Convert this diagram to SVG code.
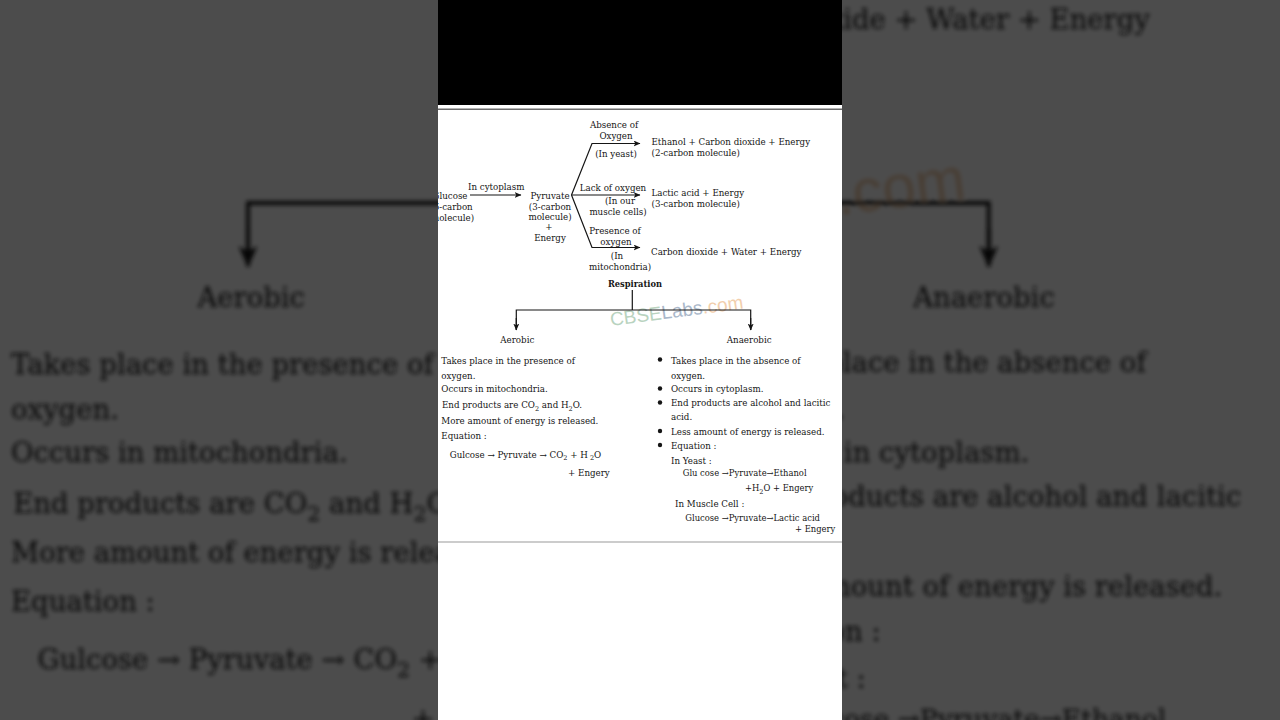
<svg xmlns="http://www.w3.org/2000/svg" xmlns:xlink="http://www.w3.org/1999/xlink" width="1280" height="720" viewBox="0 0 1280 720">
<style>
.t{font-family:"DejaVu Serif","Liberation Serif",serif;font-size:8.7px;fill:#151515}
.s{font-size:8.4px}
.m{text-anchor:middle}
.b{font-weight:bold}
.sub{font-size:6.5px}
.ln{stroke:#151515;stroke-width:1.2;fill:none}
.wm{font-family:"Liberation Sans",Arial,sans-serif;font-size:19px}
</style>
<defs>
<marker id="ah" viewBox="0 0 8 7" refX="7.5" refY="3.5" markerWidth="7" markerHeight="6" markerUnits="userSpaceOnUse" orient="auto">
<path d="M0,0 L8,3.5 L0,7 L2,3.5 z" fill="#151515"/>
</marker>
<clipPath id="pc"><rect x="438" y="110" width="404" height="432"/></clipPath>
<filter id="blur" x="-5%" y="-5%" width="110%" height="110%"><feGaussianBlur stdDeviation="0.6"/></filter>
</defs>

<rect width="1280" height="720" fill="#fff"/>
<use xlink:href="#content" href="#content" transform="matrix(3.16 0 0 3.16 -1383.5 -776.6)" filter="url(#blur)"/>
<rect width="1280" height="720" fill="#000" opacity="0.7"/>

<rect x="438" y="0" width="404" height="105" fill="#000"/>
<rect x="438" y="105" width="404" height="615" fill="#fff"/>
<line x1="438" y1="109.3" x2="842" y2="109.3" stroke="#6a6a6a" stroke-width="1.6"/>
<line x1="438" y1="542" x2="842" y2="542" stroke="#999" stroke-width="1"/>

<g id="content" clip-path="url(#pc)">
  <g id="watermark">
    <text class="wm" x="611" y="326" transform="rotate(-7.5 611 326)"><tspan fill="#b9d3c0">CBSE</tspan><tspan fill="#aab8ca">Labs</tspan><tspan fill="#f2cfae">.com</tspan></text>
  </g>

  <g id="connectors">
    <line class="ln" x1="470" y1="195" x2="521" y2="195" marker-end="url(#ah)"/>
    <polyline class="ln" points="571.5,195 592,143.5 640,143.5" marker-end="url(#ah)"/>
    <line class="ln" x1="571.5" y1="195" x2="640" y2="195" marker-end="url(#ah)"/>
    <polyline class="ln" points="571.5,195 592,247.5 640,247.5" marker-end="url(#ah)"/>
    <line class="ln" x1="632.3" y1="290" x2="632.3" y2="310"/>
    <polyline class="ln" points="516.3,330 516.3,310 750.7,310 750.7,330" stroke-width="1.3"/>
    <line class="ln" x1="516.3" y1="318" x2="516.3" y2="330" marker-end="url(#ah)"/>
    <line class="ln" x1="750.7" y1="318" x2="750.7" y2="330" marker-end="url(#ah)"/>
  </g>

  <g id="glucose">
    <text class="t m" x="450" y="199">Glucose</text>
    <text class="t m" x="451.5" y="210">(6-carbon</text>
    <text class="t m" x="452.5" y="220.5">molecule)</text>
  </g>
  <g id="cytoplasm-label">
    <text class="t" x="468" y="189.5">In cytoplasm</text>
  </g>
  <g id="pyruvate">
    <text class="t m" x="550" y="199">Pyruvate</text>
    <text class="t m" x="550" y="210">(3-carbon</text>
    <text class="t m" x="550" y="220">molecule)</text>
    <text class="t m" x="549" y="229.5">+</text>
    <text class="t m" x="550" y="240.5">Energy</text>
  </g>
  <g id="absence">
    <text class="t m" x="614" y="128">Absence of</text>
    <text class="t m" x="616" y="138.5">Oxygen</text>
    <text class="t m" x="616" y="157">(In yeast)</text>
  </g>
  <g id="lack">
    <text class="t m" x="613" y="190.5">Lack of oxygen</text>
    <text class="t m" x="620" y="203.5">(In our</text>
    <text class="t m" x="618" y="214.5">muscle cells)</text>
  </g>
  <g id="presence">
    <text class="t m" x="615" y="233.5">Presence of</text>
    <text class="t m" x="616" y="244.5">oxygen</text>
    <text class="t m" x="617" y="259">(In</text>
    <text class="t m" x="620" y="269.5">mitochondria)</text>
  </g>
  <g id="ethanol">
    <text class="t" x="651.5" y="145">Ethanol + Carbon dioxide + Energy</text>
    <text class="t" x="651.5" y="156">(2-carbon molecule)</text>
  </g>
  <g id="lactic">
    <text class="t" x="651.5" y="196">Lactic acid + Energy</text>
    <text class="t" x="651.5" y="207">(3-carbon molecule)</text>
  </g>
  <g id="co2water">
    <text class="t" x="651" y="255">Carbon dioxide + Water + Energy</text>
  </g>

  <g id="respiration">
    <text class="t m b" x="635" y="287" style="font-size:8.3px">Respiration</text>
  </g>
  <g id="aerobic">
    <text class="t m" x="517.3" y="343">Aerobic</text>
  </g>
  <g id="anaerobic">
    <text class="t m" x="749.2" y="343">Anaerobic</text>
  </g>

  <g id="aerobic-list">
    <text class="t" x="441.3" y="364">Takes place in the presence of</text>
    <text class="t" x="441.3" y="378.5">oxygen.</text>
    <text class="t" x="441.3" y="392">Occurs in mitochondria.</text>
    <text class="t" x="442" y="408">End products are CO<tspan class="sub" dy="2.5">2</tspan><tspan dy="-2.5"> and H</tspan><tspan class="sub" dy="2.5">2</tspan><tspan dy="-2.5">O.</tspan></text>
    <text class="t" x="441.3" y="423.5">More amount of energy is released.</text>
    <text class="t" x="441.3" y="439">Equation :</text>
    <text class="t" x="449.7" y="457.5">Gulcose → Pyruvate → CO<tspan class="sub" dy="2.5">2</tspan><tspan dy="-2.5"> + H</tspan><tspan class="sub" dy="2.5"> 2</tspan><tspan dy="-2.5">O</tspan></text>
    <text class="t" x="568" y="476">+ Engery</text>
  </g>

  <g id="anaerobic-list">
    <circle cx="660" cy="359.5" r="2.2" fill="#151515"/>
    <circle cx="660" cy="388.5" r="2.2" fill="#151515"/>
    <circle cx="660" cy="402.5" r="2.2" fill="#151515"/>
    <circle cx="660" cy="431" r="2.2" fill="#151515"/>
    <circle cx="660" cy="445" r="2.2" fill="#151515"/>
    <text class="t" x="671" y="363.5">Takes place in the absence of</text>
    <text class="t" x="671" y="378.5">oxygen.</text>
    <text class="t" x="671" y="392">Occurs in cytoplasm.</text>
    <text class="t" x="671" y="406">End products are alcohol and lacitic</text>
    <text class="t" x="671" y="420">acid.</text>
    <text class="t" x="671" y="434.5">Less amount of energy is released.</text>
    <text class="t" x="671" y="448.5">Equation :</text>
    <text class="t" x="671" y="463.5">In Yeast :</text>
    <text class="t s" x="682.7" y="476">Glu cose →Pyruvate→Ethanol</text>
    <text class="t s" x="745" y="491">+H<tspan class="sub" dy="2.5">2</tspan><tspan dy="-2.5">O + Engery</tspan></text>
    <text class="t" x="675" y="507">In Muscle Cell :</text>
    <text class="t s" x="685.3" y="521">Glucose →Pyruvate→Lactic acid</text>
    <text class="t s" x="795" y="532">+ Engery</text>
  </g>
</g>
</svg>
